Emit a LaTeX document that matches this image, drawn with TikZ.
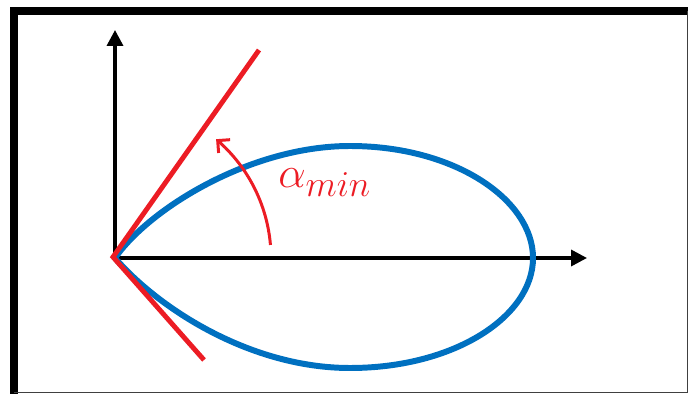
\documentclass[tikz,border=0pt]{standalone}
\usepackage{amsmath}
\usetikzlibrary{arrows.meta}
\definecolor{curveblue}{RGB}{0,112,192}
\definecolor{anglered}{RGB}{236,28,36}

\begin{document}
\begin{tikzpicture}[
    x=0.02cm, y=-0.02cm,
    >=Triangle,
    axis/.style={line width=2pt, -{Triangle[length=9pt, width=9pt]}},
    boundary/.style={curveblue, line width=3.4pt},
    limit/.style={anglered, line width=2.8pt, line join=miter},
    sweep/.style={anglered, line width=1.7pt, -{Straight Barb[length=5pt, width=10pt, line width=1.7pt]}},
    lbl/.style={text=anglered, font=\fontsize{28}{34}\selectfont, inner sep=0pt},
]
\useasboundingbox (0,0) rectangle (688,394);
% ------------------------------------------------ frame
\draw[line width=4.5pt, line cap=rect] (14,392) -- (14,11) -- (688,11);
\draw[black!75, line width=0.9pt] (687.5,11) -- (687.5,392.5) -- (14,392.5);
% ------------------------------------------------ axes
\coordinate (O) at (115,258);
\coordinate (ytip) at (115,30);
\coordinate (xtip) at (587,258);
\draw[axis] (O) -- (ytip);
\draw[axis] (O) -- (xtip);
% ------------------------------------------------ the closed curve
\draw[boundary] (O) .. controls (149,209) and (250,146) .. (350,146)
    .. controls (455,146) and (533,200) .. (533,258)
    .. controls (533,316) and (455,368) .. (350,368)
    .. controls (250,368) and (158,308) .. (O);
% ------------------------------------------------ limiting directions
\coordinate (up) at (259,50);
\coordinate (down) at (204,360);
\draw[limit] (up) -- (113,257) -- (down);
% ------------------------------------------------ the angle
\draw[sweep] plot[smooth, samples=30, domain=4.8:49.6] ({115+156*cos(\x)}, {258-156*sin(\x)});
\node[lbl, anchor=base west] (amin) at (278,188) {$\alpha_{min}$};
\end{tikzpicture}
\end{document}
